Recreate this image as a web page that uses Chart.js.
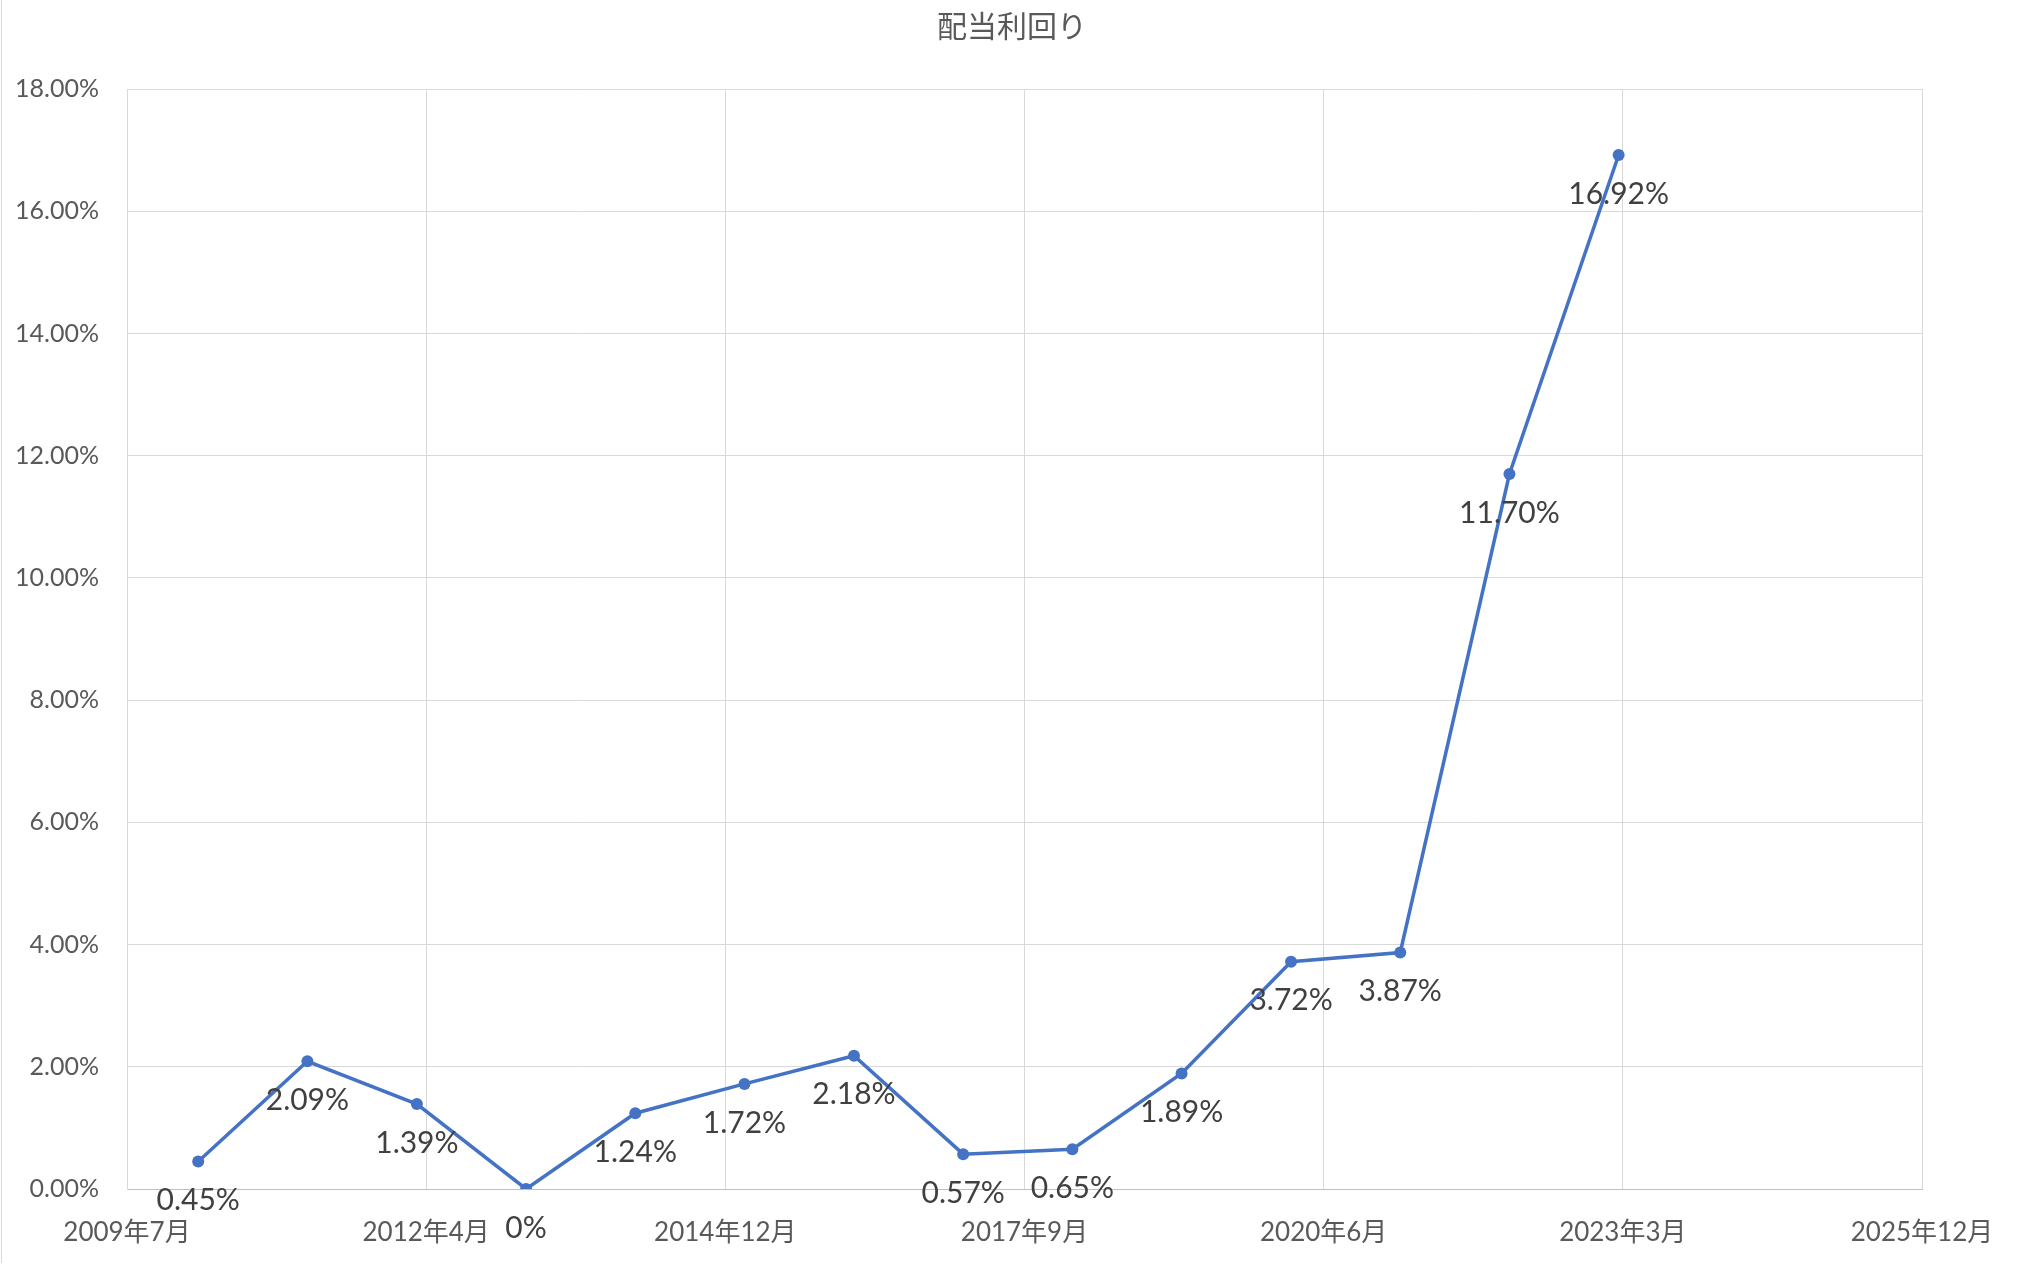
<!DOCTYPE html>
<html lang="ja">
<head>
<meta charset="utf-8">
<title>配当利回り</title>
<script src="https://cdn.jsdelivr.net/npm/chart.js@4"></script>
<style>
    html, body { margin: 0; padding: 0; background: #ffffff; }
    #wrap { width: 2018px; height: 1272px; }
</style>
</head>
<body>
<div id="wrap"><canvas id="yieldChart" width="2018" height="1272"></canvas></div>
<script>
// Data
const chartTitle = '配当利回り';
const dates = ['2010-03-01', '2011-03-01', '2012-03-01', '2013-03-01', '2014-03-01', '2015-03-01', '2016-03-01',
               '2017-03-01', '2018-03-01', '2019-03-01', '2020-03-01', '2021-03-01', '2022-03-01', '2023-03-01'];
const yieldValues = [0.45, 2.09, 1.39, 0, 1.24, 1.72, 2.18, 0.57, 0.65, 1.89, 3.72, 3.87, 11.70, 16.92];
const xTickLabels = ['2009年7月', '2012年4月', '2014年12月', '2017年9月', '2020年6月', '2023年3月', '2025年12月'];
const yTickValues = [0, 2, 4, 6, 8, 10, 12, 14, 16, 18];

const X_MIN = 40000;   // Excel serial of 2009/7/6
const X_STEP = 1000;

// Excel-style serial day number
function toSerial(s) {
    const [y, m, d] = s.split('-').map(Number);
    return (Date.UTC(y, m - 1, d) - Date.UTC(1899, 11, 30)) / 86400000;
}

const points = dates.map((d, i) => ({ x: toSerial(d), y: yieldValues[i] }));

const FONT = "Lato, 'Noto Sans CJK JP', sans-serif";

// White background, thin frame line on the left, and the title
const backgroundPlugin = {
    id: 'background',
    beforeDraw(chart) {
        const ctx = chart.ctx;
        ctx.save();
        ctx.fillStyle = '#ffffff';
        ctx.fillRect(0, 0, chart.width, chart.height);
        ctx.strokeStyle = '#d9d9d9';
        ctx.lineWidth = 1;
        ctx.beginPath();
        ctx.moveTo(1.5, 0);
        ctx.lineTo(1.5, 1263);
        ctx.stroke();
        ctx.font = '30px ' + FONT;
        ctx.fillStyle = '#595959';
        ctx.textAlign = 'center';
        ctx.textBaseline = 'middle';
        ctx.fillText(chartTitle, 1012, 27);
        ctx.restore();
    }
};

// Value labels below each point
const valueLabelPlugin = {
    id: 'valueLabels',
    afterDatasetsDraw(chart) {
        const ctx = chart.ctx;
        const meta = chart.getDatasetMeta(0);
        ctx.save();
        ctx.font = '30px ' + FONT;
        ctx.fillStyle = '#404040';
        ctx.textAlign = 'center';
        ctx.textBaseline = 'middle';
        meta.data.forEach((pt, i) => {
            const v = yieldValues[i];
            const text = v === 0 ? '0%' : v.toFixed(2) + '%';
            ctx.fillText(text, pt.x, pt.y + 39);
        });
        ctx.restore();
    }
};

new Chart(document.getElementById('yieldChart'), {
    type: 'line',
    data: {
        datasets: [{
            label: chartTitle,
            data: points,
            borderColor: '#4472C4',
            backgroundColor: '#4472C4',
            borderWidth: 3.5,
            pointRadius: 6,
            pointHoverRadius: 6,
            pointBackgroundColor: '#4472C4',
            pointBorderWidth: 0,
            tension: 0,
            fill: false
        }]
    },
    options: {
        responsive: false,
        devicePixelRatio: 1,
        animation: false,
        layout: { padding: { left: 0, right: 96, top: 89, bottom: 0 } },
        plugins: {
            legend: { display: false },
            tooltip: { enabled: false },
            title: { display: false }
        },
        scales: {
            x: {
                type: 'linear',
                min: X_MIN,
                max: X_MIN + X_STEP * (xTickLabels.length - 1),
                afterBuildTicks(scale) {
                    scale.ticks = xTickLabels.map((_, i) => ({ value: X_MIN + i * X_STEP }));
                },
                afterFit(scale) {
                    scale.height = 83;
                    scale.paddingLeft = 0;
                    scale.paddingRight = 0;
                },
                ticks: {
                    autoSkip: false,
                    maxRotation: 0,
                    padding: 28,
                    color: '#595959',
                    font: { family: FONT, size: 26 },
                    callback: (v) => xTickLabels[Math.round((v - X_MIN) / X_STEP)]
                },
                grid: { color: '#d9d9d9', lineWidth: 1, drawTicks: false },
                border: { color: '#bfbfbf', width: 1 }
            },
            y: {
                min: 0,
                max: 18,
                afterBuildTicks(scale) {
                    scale.ticks = yTickValues.map(v => ({ value: v }));
                },
                afterFit(scale) { scale.width = 127; },
                ticks: {
                    padding: 28,
                    color: '#595959',
                    font: { family: FONT, size: 25 },
                    callback: (v) => v.toFixed(2) + '%'
                },
                grid: { color: '#d9d9d9', lineWidth: 1, drawTicks: false },
                border: { color: '#d9d9d9', width: 1 }
            }
        }
    },
    plugins: [backgroundPlugin, valueLabelPlugin]
});
</script>
</body>
</html>
